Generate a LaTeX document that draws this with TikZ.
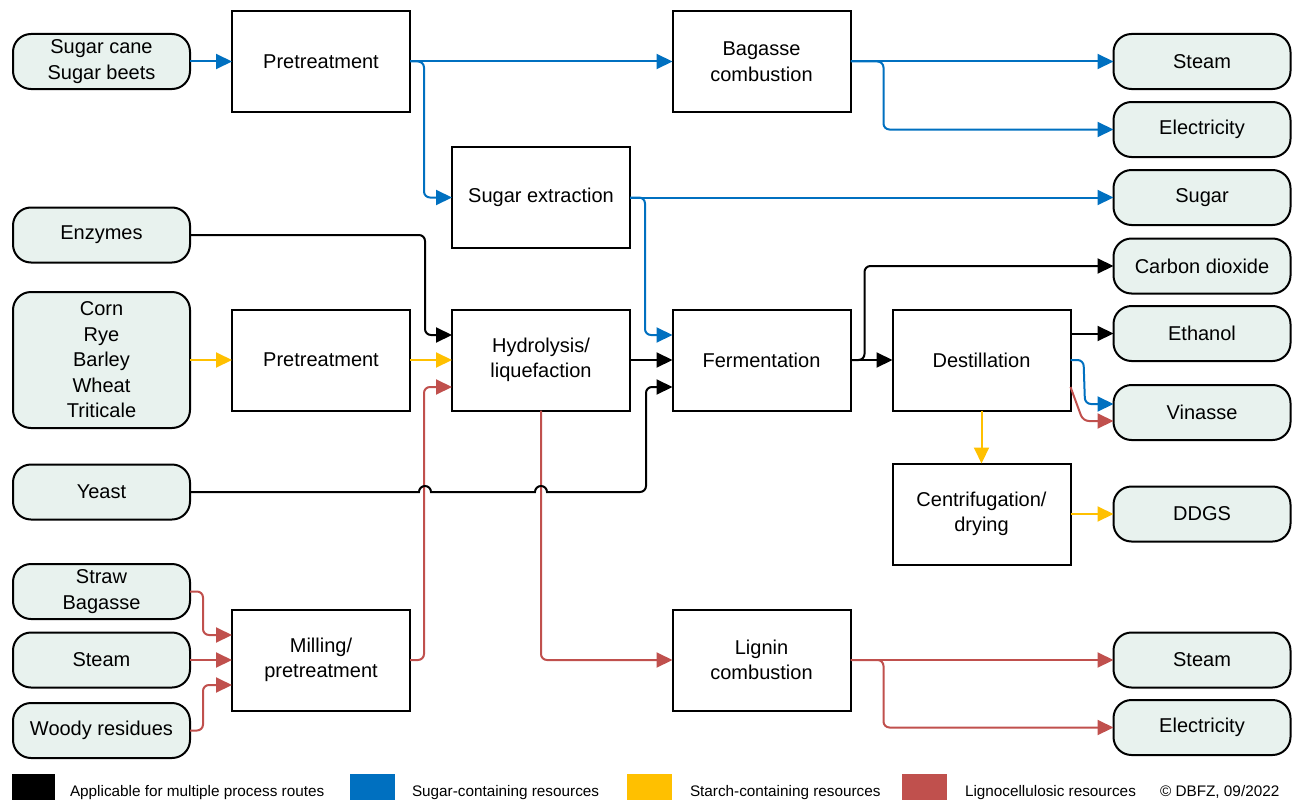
\documentclass[tikz,border=0pt]{standalone}
\usepackage{fontspec}
\setmainfont{Liberation Sans}
\usetikzlibrary{arrows.meta}
\definecolor{sugarblue}{RGB}{0,112,192}
\definecolor{starchyellow}{RGB}{255,192,0}
\definecolor{lignored}{RGB}{192,80,77}
\definecolor{termfill}{RGB}{232,242,238}
\begin{document}
\begin{tikzpicture}[x=1pt,y=-1pt,
  every node/.style={font=\fontsize{20}{25.5}\selectfont, align=center, inner sep=0pt, outer sep=0pt},
  proc/.style={draw, line width=2pt, minimum width=178pt, minimum height=101pt},
  term/.style={draw, line width=2pt, fill=termfill, rounded corners=18pt, minimum width=177pt, minimum height=55pt},
  flow/.style={line width=2pt, rounded corners=6pt, -{Triangle[length=16pt,width=15pt]}},
  multi/.style={flow, black},
  sugarflow/.style={flow, sugarblue},
  starchflow/.style={flow, starchyellow},
  ligflow/.style={flow, lignored},
  legendtext/.style={anchor=base west, font=\fontsize{15.3}{18}\selectfont}
]
\useasboundingbox (0,0) rectangle (1300,800);

% process steps
\node[proc] (pre1) at (321,61.5) {Pretreatment};
\node[proc] (bag)  at (761.5,61.5) {Bagasse\\combustion};
\node[proc] (sugx) at (541,197.5) {Sugar extraction};
\node[proc] (pre2) at (321,360) {Pretreatment};
\node[proc] (hyd)  at (541,360) {Hydrolysis/\\liquefaction};
\node[proc] (ferm) at (761.5,360) {Fermentation};
\node[proc] (dest) at (981.5,360) {Destillation};
\node[proc] (cent) at (981.5,514) {Centrifugation/\\drying};
\node[proc] (mill) at (321,660) {Milling/\\pretreatment};
\node[proc] (lig)  at (761.5,660) {Lignin\\combustion};

% feedstocks and inputs
\node[term] (cane)   at (101.5,61.5) {Sugar cane\\Sugar beets};
\node[term] (enz)    at (101.5,235) {Enzymes};
\node[term, minimum height=136pt] (corn) at (101.5,360) {Corn\\Rye\\Barley\\Wheat\\Triticale};
\node[term] (yeast)  at (101.5,492) {Yeast};
\node[term] (straw)  at (101.5,591.5) {Straw\\Bagasse};
\node[term] (steamL) at (101.5,660) {Steam};
\node[term] (woody)  at (101.5,730.5) {Woody residues};

% products
\node[term] (steam1) at (1202,61.5) {Steam};
\node[term] (elec1)  at (1202,129.5) {Electricity};
\node[term] (sugar)  at (1202,197.5) {Sugar};
\node[term] (co2)    at (1202,266) {Carbon dioxide};
\node[term] (eth)    at (1202,333.5) {Ethanol};
\node[term] (vin)    at (1202,412.5) {Vinasse};
\node[term] (ddgs)   at (1202,514) {DDGS};
\node[term] (steam2) at (1202,660) {Steam};
\node[term] (elec2)  at (1202,727.5) {Electricity};

% sugar route
\draw[sugarflow] (cane.east) -- (pre1.west);
\draw[sugarflow] (pre1.east) -- (bag.west);
\draw[sugarflow] (pre1.east) -- ++(14,0) |- (sugx.west);
\draw[sugarflow] (bag.east) -- (steam1.west);
\draw[sugarflow] (bag.east) -- ++(33,0) |- (elec1.west);
\draw[sugarflow] (sugx.east) -- (sugar.west);
\draw[sugarflow] (sugx.east) -- ++(15,0) |- (ferm.west |- 0,335);
\draw[sugarflow] (dest.east) -- ++(13,0) -- (1085,404) -- (vin.west |- 0,404);

% starch route
\draw[starchflow] (corn.east) -- (pre2.west);
\draw[starchflow] (pre2.east) -- (hyd.west);
\draw[starchflow] (dest.south) -- (cent.north);
\draw[starchflow] (cent.east) -- (ddgs.west);

% lignocellulosic route
\draw[ligflow] (straw.east) -| (203,635) -- (mill.west |- 0,635);
\draw[ligflow] (steamL.east) -- (mill.west);
\draw[ligflow] (woody.east) -| (203,685) -- (mill.west |- 0,685);
\draw[ligflow] (mill.east) -- ++(14,0) |- (hyd.west |- 0,387);
\draw[ligflow] (hyd.south) |- (lig.west);
\draw[ligflow] (lig.east) -- (steam2.west);
\draw[ligflow] (lig.east) -- ++(33,0) |- (elec2.west);
\draw[ligflow] (dest.east |- 0,387) -- (1083,421) -- (vin.west |- 0,421);

% shared steps
\draw[multi] (enz.east) -| (425,335) -- (hyd.west |- 0,335);
\draw[multi] (hyd.east) -- (ferm.west);
\draw[multi, sharp corners] (yeast.east) -- (419,492)
  arc[start angle=180, end angle=360, radius=6] -- (535,492)
  arc[start angle=180, end angle=360, radius=6]
  [rounded corners=6pt] -- (646,492) -- (646,387) -- (ferm.west |- 0,387);
\draw[multi] (ferm.east) -- (dest.west);
\draw[multi] (ferm.east) -- ++(14,0) |- (co2.west);
\draw[multi] (dest.east |- eth.west) -- (eth.west);

% legend
\fill[black] (12,774) rectangle (55,800);
\fill[sugarblue] (350,774) rectangle (395,800);
\fill[starchyellow] (627,774) rectangle (672,800);
\fill[lignored] (902,774) rectangle (947,800);
\node[legendtext] (lgA) at (70,796) {Applicable for multiple process routes};
\node[legendtext] (lgB) at (412,796) {Sugar-containing resources};
\node[legendtext] (lgC) at (690,796) {Starch-containing resources};
\node[legendtext] (lgD) at (965,796) {Lignocellulosic resources};
\node[legendtext] (lgE) at (1160,796) {© DBFZ, 09/2022};
\end{tikzpicture}
\end{document}
